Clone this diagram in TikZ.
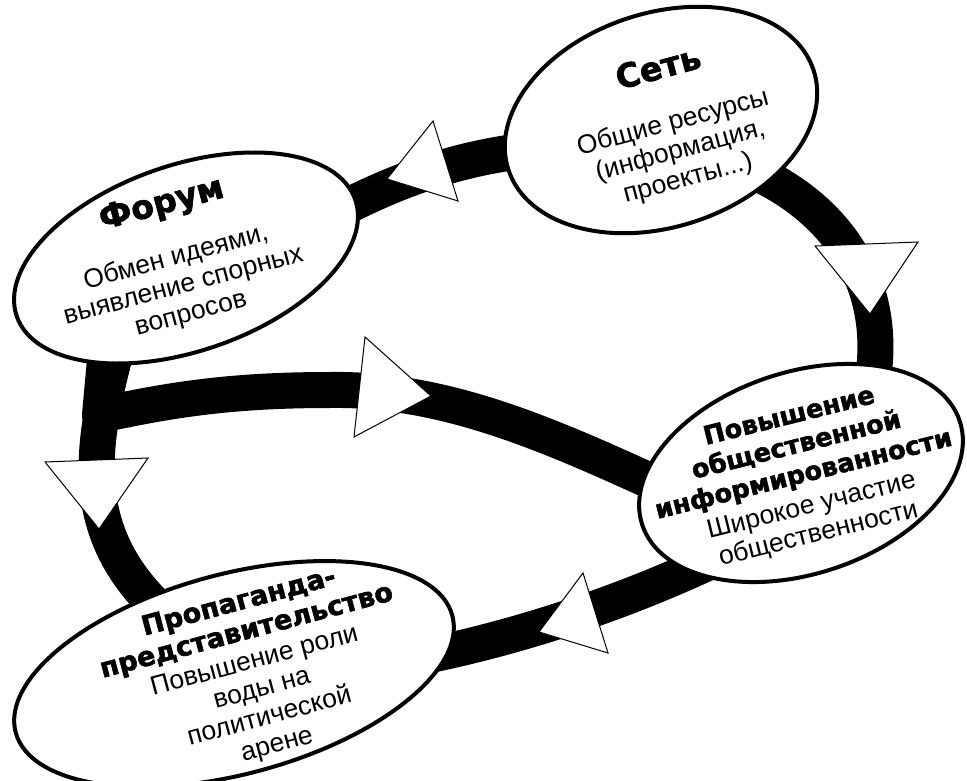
\documentclass[tikz,border=0pt]{standalone}
\usepackage{fontspec}
\setmainfont{Liberation Sans}
\newfontfamily\ttlfamily{DejaVu Sans}[BoldFeatures={FakeBold=2}]
\usetikzlibrary{shapes.geometric,backgrounds}
\newcommand\ttlbig{\ttlfamily\bfseries\fontsize{33}{36}\selectfont}
\newcommand\ttlmid{\ttlfamily\bfseries\fontsize{27}{30}\selectfont}
\newcommand\ttlpov{\ttlfamily\bfseries\fontsize{25.5}{29}\selectfont}
\begin{document}
\begin{tikzpicture}[x=1pt,y=1pt,
  band/.style={draw=black, line width=36pt, line join=round},
  bubble/.style={ellipse, draw=black, line width=4pt, fill=white, inner sep=0pt, outer sep=0pt},
  headtri/.style={fill=white, draw=black, line width=1pt, line join=miter},
  txt/.style={align=center, inner sep=0pt, text=black, font=\fontsize{26.5}{29}\selectfont}]
\useasboundingbox (0,0) rectangle (967,-781);
% ellipses
\node[bubble, minimum width=358pt, minimum height=186pt, rotate=19] (forum) at (186,-258) {};
\node[bubble, minimum width=321pt, minimum height=214pt, rotate=18] (set) at (661,-120) {};
\node[bubble, minimum width=334pt, minimum height=202pt, rotate=18] (pov) at (801,-473) {};
\node[bubble, minimum width=452pt, minimum height=200pt, rotate=15] (prop) at (234,-674) {};
% bands
\begin{scope}[on background layer]
  \fill[white] (0,0) rectangle (967,-781);
  \draw[band] (set.center) -- (530,-150) .. controls (460,-158) and (400,-178) .. (330,-215) -- (forum.center);
  \draw[band] (set.center) -- (750,-170) .. controls (830,-205) and (895,-280) .. (870,-395) -- (pov.center);
  \draw[band] (pov.center) -- (720,-557) .. controls (640,-595) and (540,-632) .. (430,-655) -- (prop.center);
  \draw[band] (forum.center) -- (105,-360) -- (100,-415) .. controls (170,-400) and (230,-390) .. (330,-390) .. controls (450,-388) and (560,-440) .. (670,-490) -- (pov.center);
  \draw[band] (forum.center) -- (115,-355) .. controls (90,-450) and (80,-530) .. (155,-605) -- (prop.center);
\end{scope}
% arrowheads
\filldraw[headtri] (433,-121) -- (458,-201) -- (387,-179) -- cycle;
\filldraw[headtri] (815,-246) -- (918,-242) -- (870,-314) -- cycle;
\filldraw[headtri] (365,-337) -- (354,-437) -- (431,-396) -- cycle;
\filldraw[headtri] (583,-573) -- (608,-653) -- (539,-632) -- cycle;
\filldraw[headtri] (45,-462) -- (148,-458) -- (99,-529) -- cycle;
% texts
\node[txt, rotate=15] (forumtxt) at (176,-258) {{\ttlbig Форум}\\[24pt]Обмен идеями,\\выявление спорных\\вопросов};
\node[txt, rotate=15] (settxt) at (673,-123) {{\ttlbig Сеть}\\[24pt]Общие ресурсы\\(информация,\\проекты...)};
\node[txt, rotate=14] (povtxt) at (804,-476) {{\ttlpov Повышение}\\[1pt]{\ttlpov общественной}\\[1pt]{\ttlpov информированности}\\[3pt]Широкое участие\\общественности};
\node[txt, rotate=15] (proptxt) at (258,-674) {{\ttlmid Пропаганда-}\\[1pt]{\ttlmid представительство}\\[1pt]Повышение роли\\воды на\\политической\\арене};
\end{tikzpicture}
\end{document}
